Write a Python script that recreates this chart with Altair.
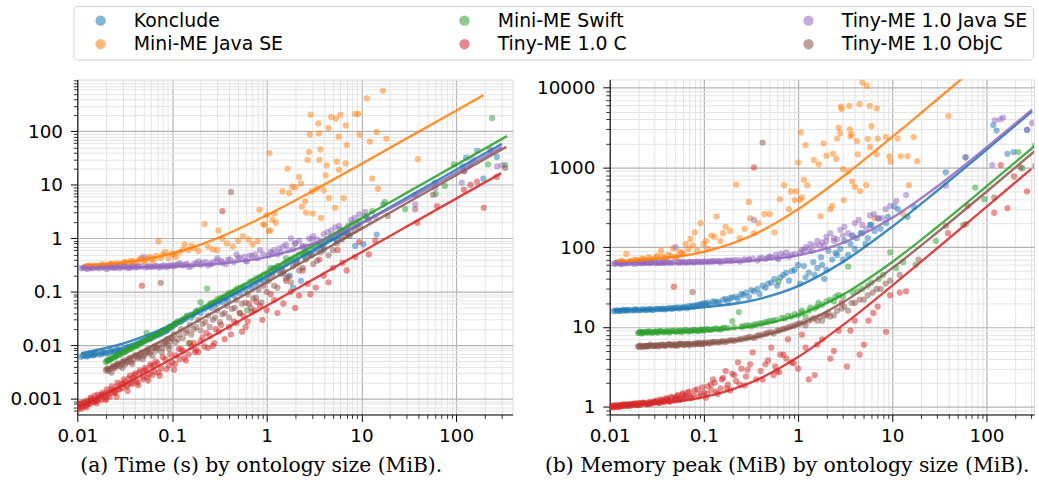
import altair as alt
import pandas as pd

# ---------------------------------------------------------------------------
# Benchmark results: ontology size (MiB), reasoning time (s), memory peak (MiB)
# ---------------------------------------------------------------------------

KONCLUDE_SIZE = [0.011, 0.012, 0.013, 0.014, 0.015, 0.016, 0.018, 0.019, 0.021, 0.023, 0.025, 0.027, 0.029,
                 0.032, 0.035, 0.038, 0.042, 0.046, 0.05, 0.055, 0.06, 0.066, 0.072, 0.079, 0.087, 0.095,
                 0.105, 0.115, 0.13, 0.145, 0.16, 0.18, 0.2, 0.23, 0.26, 0.3, 0.34, 0.39, 0.45, 0.52, 0.6,
                 0.7, 0.8, 0.92,
                 1.05, 1.3, 1.6, 1.9, 2.3, 2.8, 3.4, 4.2, 5.2, 6.5, 8.6,
                 10.5, 14.5, 17, 37, 60, 118, 128, 167, 194, 270,
                 0.0115, 0.0125, 0.0135, 0.0145, 0.0155, 0.017, 0.0185, 0.02, 0.022, 0.024, 0.026, 0.028,
                 0.031, 0.034, 0.037, 0.04, 0.044, 0.048, 0.053, 0.058, 0.063, 0.069, 0.076, 0.083, 0.091,
                 0.1, 0.11, 0.125, 0.14, 0.17, 0.19, 0.22, 0.25, 0.28, 0.32, 0.37, 0.42, 0.48, 0.56, 0.65,
                 0.75, 0.86, 1.0, 1.15, 1.45, 1.75, 2.1, 2.5, 3.1, 3.8, 4.6, 5.8, 7.2,
                 1.2, 1.5, 1.8, 2.0, 2.6, 3.0, 3.6, 4.0, 4.8, 5.5, 6.0, 7.5, 9.0, 11.5]
KONCLUDE_TIME = [0.0061, 0.0065, 0.0063, 0.0068, 0.0066, 0.0071, 0.0069, 0.0074, 0.0072, 0.0079, 0.0077, 0.0084,
                 0.0082, 0.0089, 0.0093, 0.0098, 0.0105, 0.0112, 0.012, 0.013, 0.0138, 0.015, 0.0158, 0.0172,
                 0.0185, 0.021,
                 0.024, 0.028, 0.03, 0.036, 0.033, 0.042, 0.04, 0.052, 0.05, 0.06, 0.065, 0.07, 0.085, 0.095,
                 0.11, 0.115, 0.15, 0.16,
                 0.21, 0.25, 0.33, 0.12, 0.16, 0.5, 0.62, 0.85, 1.0, 1.4, 0.72,
                 0.77, 1.17, 4.3, 6.5, 11, 22, 32, 43, 13, 33,
                 0.0064, 0.0062, 0.0067, 0.0065, 0.007, 0.0068, 0.0073, 0.0071, 0.0076, 0.0075, 0.0081, 0.008,
                 0.0086, 0.0092, 0.0096, 0.0101, 0.0109, 0.0116, 0.0125, 0.0135, 0.0144, 0.0155, 0.0165,
                 0.018, 0.0195, 0.022, 0.025, 0.028, 0.031, 0.038, 0.045, 0.047, 0.055, 0.058, 0.068, 0.075,
                 0.09, 0.1, 0.12, 0.13, 0.14, 0.17, 0.18, 0.23, 0.28, 0.2, 0.4, 0.45, 0.6, 0.7, 0.95, 1.1, 1.2,
                 0.28, 0.22, 0.4, 0.35, 0.55, 0.48, 0.75, 0.6, 1.0, 0.9, 1.3, 1.1, 1.8, 2.4]
KONCLUDE_MEM = [15.8, 16.2, 15.9, 16.4, 16.0, 16.3, 16.1, 16.6, 16.2, 16.5, 16.3, 16.8, 16.4, 16.7, 16.9, 16.6,
                17.1, 16.8, 17.3, 17.0, 17.5, 17.2, 17.8, 18.0, 18.6, 19.3,
                19.5, 19, 20.5, 20, 22, 21, 23.5, 22.5, 25, 24, 28, 26, 31, 36, 33, 45, 38, 52,
                35, 48, 55, 40, 70, 95, 80, 130, 110, 160, 200,
                325, 240, 320, 870, 1330, 3400, 2900, 1480, 1560, 2950,
                16.0, 15.9, 16.2, 16.1, 16.4, 16.2, 16.5, 16.3, 16.6, 16.4, 16.7, 16.5, 16.9, 16.8, 17.0,
                16.9, 17.2, 17.4, 17.6, 17.5, 17.9, 18.2, 18.5, 18.8, 19.2, 19.8, 20.2, 21, 20.8, 22.5, 23,
                24, 26, 27, 29, 30, 33, 35, 40, 42, 48, 50, 60, 58, 65, 75, 90, 85, 120, 140, 150, 190, 230,
                42, 45, 60, 52, 80, 70, 110, 95, 150, 130, 190, 170, 240, 300]

SWIFT_SIZE = [0.020, 0.021, 0.022, 0.023, 0.025, 0.026, 0.028, 0.03, 0.032, 0.034, 0.037, 0.04, 0.043, 0.046,
              0.05, 0.054, 0.058, 0.063, 0.068, 0.074, 0.08, 0.087, 0.094,
              0.1, 0.11, 0.12, 0.135, 0.15, 0.165, 0.2, 0.235, 0.25, 0.28, 0.32, 0.36, 0.41, 0.47, 0.54, 0.62,
              0.72, 0.85,
              1.0, 1.2, 1.5, 1.8, 2.2, 2.7, 3.4, 4.3, 5.5, 7.2, 9.5,
              17.7, 29, 61, 76, 95, 218, 240, 330,
              0.0205, 0.0215, 0.0225, 0.024, 0.0255, 0.027, 0.029, 0.031, 0.033, 0.035, 0.038, 0.041, 0.044,
              0.048, 0.052, 0.056, 0.06, 0.065, 0.071, 0.077, 0.084, 0.09, 0.097, 0.105, 0.115, 0.128, 0.142,
              0.158, 0.18, 0.21, 0.26, 0.3, 0.34, 0.39, 0.44, 0.5, 0.58, 0.67, 0.78, 0.92, 1.1, 1.35, 1.65,
              2.0, 2.5,
              1.1, 1.3, 1.6, 2.4, 3.0, 3.8, 4.8, 6.0, 8.0, 11, 13]
SWIFT_TIME = [0.0049, 0.0052, 0.0053, 0.0056, 0.006, 0.0064, 0.0066, 0.0072, 0.0075, 0.0082, 0.0085, 0.0095,
              0.0098, 0.0108, 0.0118, 0.017, 0.013, 0.0145, 0.016, 0.0168, 0.019, 0.02, 0.022,
              0.023, 0.026, 0.027, 0.032, 0.011, 0.038, 0.064, 0.115, 0.058, 0.065, 0.075, 0.082, 0.095, 0.11,
              0.12, 0.045, 0.16, 0.19,
              0.22, 0.27, 0.33, 0.4, 0.5, 0.6, 0.75, 0.95, 1.2, 1.7, 2.1,
              4.8, 3.5, 6.7, 9.5, 24, 24, 176, 23.5,
              0.0051, 0.0054, 0.0057, 0.0059, 0.0063, 0.0067, 0.007, 0.0076, 0.0079, 0.0084, 0.009, 0.0097,
              0.0104, 0.0112, 0.0122, 0.013, 0.0138, 0.015, 0.0165, 0.0178, 0.0195, 0.021, 0.0225, 0.025,
              0.027, 0.03, 0.034, 0.037, 0.043, 0.05, 0.062, 0.072, 0.078, 0.092, 0.1, 0.118, 0.13, 0.155,
              0.18, 0.21, 0.25, 0.3, 0.37, 0.45, 0.55,
              0.28, 0.3, 0.42, 0.5, 0.72, 0.85, 1.1, 1.45, 1.9, 2.6, 3.2]
SWIFT_MEM = [8.4, 8.7, 8.3, 8.6, 8.5, 8.8, 8.4, 8.7, 8.5, 8.9, 8.6, 8.8, 8.5, 9.0, 8.7, 8.9, 8.6, 9.1, 8.8, 9.0,
             9.2, 8.9, 9.3,
             9.1, 9.4, 9.2, 9.6, 9.3, 9.8, 11.8, 15.4, 10.0, 10.4, 10.2, 10.8, 11.0, 11.5, 12.0, 37, 12.8, 13.5,
             14, 13.5, 17, 19, 22, 25, 57, 28, 33, 40, 86,
             60, 120, 195, 560, 400, 1560, 980, 1900,
             8.5, 8.6, 8.45, 8.7, 8.55, 8.75, 8.6, 8.8, 8.65, 8.85, 8.7, 8.9, 8.75, 8.95, 8.8, 9.0, 8.85,
             9.05, 8.9, 9.1, 9.0, 9.15, 9.05, 9.3, 9.2, 9.45, 9.35, 9.6, 9.7, 9.9, 10.2, 10.5, 10.7, 11.1,
             11.4, 11.9, 12.3, 13, 13.8, 14.5, 16, 17.5, 20, 21, 24,
             15, 16, 18, 21, 24, 27, 30, 36, 45, 55, 65]

OBJC_SIZE = [0.020, 0.021, 0.022, 0.024, 0.025, 0.027, 0.029, 0.031, 0.033, 0.036, 0.039, 0.042, 0.045, 0.048,
             0.052, 0.056, 0.06, 0.065, 0.07, 0.076, 0.082, 0.089, 0.096,
             0.023, 0.026, 0.03, 0.034, 0.038, 0.043, 0.049, 0.055, 0.062, 0.069, 0.078, 0.086, 0.093, 0.099,
             0.105, 0.115, 0.125, 0.14, 0.155, 0.17, 0.19, 0.21, 0.24, 0.27, 0.3, 0.34, 0.38, 0.42, 0.43,
             0.48, 0.55, 0.63, 0.72, 0.82, 0.93,
             1.05, 1.2, 1.4, 1.6, 1.9, 2.2, 2.6, 3.1, 3.7, 4.5, 5.5, 6.8, 8.5,
             19, 37, 57, 121, 230, 330,
             0.0205, 0.0215, 0.0235, 0.0245, 0.026, 0.028, 0.03, 0.032, 0.035, 0.037, 0.04, 0.044, 0.047,
             0.05, 0.054, 0.058, 0.063, 0.068, 0.073, 0.079, 0.085, 0.092, 0.1, 0.11, 0.12, 0.13, 0.145,
             0.16, 0.18, 0.2, 0.225, 0.25, 0.285, 0.32, 0.36, 0.4, 0.46, 0.52, 0.6, 0.68, 0.77, 0.88, 1.0,
             1.3, 1.7,
             1.15, 1.5, 1.8, 2.1, 2.4, 2.9, 3.4, 4.0, 5.0, 6.2, 7.5, 9.5, 12]
OBJC_TIME = [0.0034, 0.0037, 0.0036, 0.0041, 0.0039, 0.0046, 0.0043, 0.0052, 0.0048, 0.0058, 0.0054, 0.0066,
             0.0061, 0.0074, 0.0068, 0.0085, 0.0078, 0.0096, 0.0088, 0.147, 0.0105, 0.013, 0.0118,
             0.0031, 0.0042, 0.0038, 0.005, 0.0045, 0.0062, 0.0055, 0.0075, 0.0064, 0.009, 0.0075, 0.0112,
             0.0086, 0.0135,
             0.016, 0.013, 0.02, 0.017, 0.024, 0.02, 0.03, 0.025, 0.036, 0.03, 0.045, 0.038, 0.055, 7.3, 0.048,
             0.07, 0.06, 0.09, 0.075, 0.11, 0.13,
             0.16, 0.13, 0.22, 0.18, 0.3, 0.25, 0.4, 0.33, 0.55, 0.48, 0.8, 1.1, 1.4,
             2.6, 3.5, 6.5, 18, 45, 20.6,
             0.0036, 0.0033, 0.004, 0.0037, 0.0044, 0.004, 0.0049, 0.0044, 0.0056, 0.0049, 0.0064, 0.0057,
             0.0071, 0.0063, 0.008, 0.0071, 0.009, 0.008, 0.0102, 0.0089, 0.0115, 0.0099, 0.0135, 0.0115,
             0.016, 0.0135, 0.019, 0.016, 0.022, 0.019, 0.027, 0.022, 0.033, 0.027, 0.04, 0.033, 0.05,
             0.04, 0.062, 0.05, 0.078, 0.063, 0.1, 0.12, 0.19,
             0.2, 0.24, 0.15, 0.34, 0.28, 0.5, 0.38, 0.7, 0.6, 0.95, 1.2, 1.6, 2.2]
OBJC_MEM = [5.7, 5.9, 5.6, 5.8, 5.7, 6.0, 5.8, 5.9, 5.7, 6.0, 5.8, 6.1, 5.9, 6.0, 5.8, 6.2, 6.0, 6.1, 5.9, 27.4,
            6.2, 6.3, 6.1,
            5.75, 5.85, 5.8, 5.95, 5.85, 6.05, 5.9, 6.1, 6.0, 6.15, 6.05, 6.2, 6.1, 6.25,
            6.3, 6.2, 6.5, 6.4, 6.6, 6.5, 6.8, 6.7, 7.0, 7.2, 7.5, 7.3, 7.9, 2050, 8.1, 8.5, 8.3, 9.0, 9.5,
            10, 10.5,
            11, 10.5, 12.5, 12, 14, 13.5, 16, 18, 20, 22, 25, 30, 35,
            70, 185, 190, 420, 1000, 1050,
            5.65, 5.75, 5.7, 5.8, 5.75, 5.85, 5.8, 5.9, 5.85, 5.95, 5.9, 6.0, 5.95, 6.05, 6.0, 6.1, 6.05,
            6.15, 6.1, 6.2, 6.15, 6.25, 6.3, 6.35, 6.4, 6.45, 6.5, 6.6, 6.7, 6.8, 6.9, 7.0, 7.2, 7.4, 7.6,
            7.8, 8.2, 8.6, 9.0, 9.4, 9.8, 10.3, 11, 12, 13.5,
            11.5, 13, 12, 15, 14, 17, 16, 20, 22, 27, 30, 38, 45]

TINYC_SIZE = [0.0100, 0.0103, 0.0107, 0.011, 0.0115, 0.012, 0.0125, 0.013, 0.0135, 0.014, 0.015, 0.0155, 0.016,
              0.017, 0.018, 0.019, 0.02, 0.021, 0.022, 0.024,
              0.025, 0.026, 0.027, 0.029, 0.03, 0.032, 0.034, 0.035, 0.037, 0.04, 0.042, 0.045, 0.048, 0.05,
              0.053, 0.057, 0.06, 0.065, 0.07, 0.077, 0.085, 0.093,
              0.011, 0.0125, 0.014, 0.016, 0.018, 0.02, 0.023, 0.026, 0.03, 0.034, 0.039, 0.044, 0.05, 0.056,
              0.064, 0.074,
              0.1, 0.11, 0.12, 0.13, 0.15, 0.16, 0.18, 0.2, 0.22, 0.25, 0.28, 0.31, 0.34, 0.4, 0.48, 0.57, 0.7,
              0.85,
              0.105, 0.125, 0.14, 0.17, 0.19, 0.23, 0.27, 0.33, 0.42, 0.52, 0.63, 0.78,
              1.0, 1.2, 1.5, 1.8, 2.2, 2.7, 3.3, 4.0, 5.0, 6.3, 8.6, 12,
              39, 63, 121, 142, 167, 196, 270,
              0.0101, 0.0105, 0.0112, 0.0118, 0.0122, 0.0128, 0.0133, 0.0138, 0.0145, 0.0152, 0.0158, 0.0165,
              0.0172, 0.0185, 0.0195, 0.0205, 0.0215, 0.023, 0.0245, 0.0265, 0.028, 0.031, 0.033, 0.036,
              0.038, 0.041, 0.043, 0.046, 0.049, 0.052, 0.055, 0.059, 0.062, 0.067, 0.072, 0.08, 0.088,
              0.096, 0.108, 0.118, 0.135, 0.155, 0.175, 0.21, 0.24, 0.29, 0.36, 0.45, 0.6, 0.75,
              0.55, 0.65, 0.9, 1.1, 1.3, 1.6, 2.0, 2.4, 2.9, 3.6, 4.5, 5.6, 7.0, 9.5, 14]
TINYC_TIME = [0.0007, 0.00075, 0.00068, 0.0008, 0.00072, 0.00085, 0.00078, 0.0009, 0.0008, 0.00095, 0.00088,
              0.001, 0.0009, 0.0011, 0.00095, 0.0012, 0.001, 0.0013, 0.0011, 0.0014,
              0.0013, 0.0017, 0.0015, 0.0019, 0.0016, 0.0021, 0.0018, 0.0024, 0.002, 0.0028, 0.0022, 0.0031,
              0.13, 0.0026, 0.0035, 0.0029, 0.0041, 0.0032, 0.0046, 0.0037, 0.0055, 0.0042,
              0.00085, 0.0007, 0.001, 0.00082, 0.0012, 0.00095, 0.0015, 0.0011, 0.0019, 0.0014, 0.0025, 0.0018,
              0.0033, 0.0022, 0.0042, 0.0027,
              0.0048, 0.0065, 0.0055, 0.0078, 0.0068, 0.0095, 0.0082, 0.012, 0.0095, 0.015, 0.011, 0.018, 3.2,
              0.022, 0.026, 0.035, 0.042, 0.055,
              0.0035, 0.0085, 0.0052, 0.011, 0.0075, 0.017, 0.0098, 0.024, 0.016, 0.04, 0.028, 0.065,
              0.045, 0.07, 0.06, 0.1, 0.085, 0.14, 0.12, 0.2, 0.28, 0.35, 0.45, 0.5,
              1.95, 4.0, 8.1, 10, 11.4, 3.7, 14,
              0.00062, 0.0008, 0.00066, 0.00088, 0.00074, 0.00092, 0.00082, 0.00105, 0.00086, 0.00115,
              0.00094, 0.0012, 0.001, 0.0013, 0.0011, 0.0015, 0.0012, 0.0017, 0.0013, 0.002, 0.0015, 0.0023,
              0.0017, 0.0027, 0.0019, 0.003, 0.002, 0.0034, 0.0023, 0.0038, 0.0025, 0.0044, 0.0028, 0.005,
              0.0031, 0.006, 0.0036, 0.0068, 0.0045, 0.0085, 0.0058, 0.011, 0.0075, 0.014, 0.009, 0.02,
              0.013, 0.028, 0.022, 0.045,
              0.018, 0.06, 0.03, 0.09, 0.04, 0.16, 0.05, 0.25, 0.09, 0.4, 0.15, 0.6, 0.25, 0.85, 0.9]
TINYC_MEM = [1.0, 0.98, 1.02, 0.99, 1.03, 1.0, 1.04, 1.01, 1.05, 1.02, 1.06, 1.03, 1.07, 1.04, 1.08, 1.05, 1.1,
             1.06, 1.12, 1.08,
             1.08, 1.13, 1.1, 1.16, 1.12, 1.2, 1.14, 1.24, 1.17, 1.28, 1.2, 1.33, 32, 1.25, 1.4, 1.28, 1.48,
             1.32, 1.55, 1.38, 1.65, 1.45,
             1.04, 1.0, 1.07, 1.03, 1.09, 1.05, 1.12, 1.08, 1.16, 1.12, 1.22, 1.16, 1.3, 1.22, 1.38, 1.3,
             1.5, 1.8, 1.6, 2.0, 1.7, 2.3, 1.9, 2.6, 2.1, 3.0, 2.4, 3.4, 1000, 2.8, 3.8, 3.2, 4.5, 3.6,
             1.3, 2.2, 1.45, 2.8, 1.6, 3.6, 1.85, 4.8, 2.2, 5.5, 2.7, 7.0,
             3.0, 5.5, 2.5, 7, 4, 9, 3.2, 12, 6, 15, 8.7, 27,
             150, 330, 270, 1070, 310, 770, 500,
             1.0, 1.02, 0.99, 1.04, 1.01, 1.05, 1.02, 1.06, 1.03, 1.07, 1.04, 1.08, 1.05, 1.1, 1.06, 1.11,
             1.07, 1.13, 1.09, 1.15, 1.1, 1.18, 1.12, 1.21, 1.14, 1.25, 1.16, 1.3, 1.19, 1.36, 1.22, 1.42,
             1.25, 1.5, 1.3, 1.6, 1.35, 1.75, 1.45, 1.9, 1.55, 2.2, 1.7, 2.5, 1.9, 2.9, 2.2, 3.4, 2.8, 4.0,
             2.5, 4.5, 3.5, 8, 2.2, 6, 14, 5, 20, 9, 4.5, 12, 18, 25, 28]

TINYJ_SIZE = [0.011, 0.012, 0.013, 0.014, 0.015, 0.017, 0.018, 0.02, 0.022, 0.024, 0.026, 0.028, 0.031, 0.034,
              0.037, 0.041, 0.045, 0.05, 0.055, 0.06, 0.066, 0.072, 0.079, 0.087, 0.095,
              0.105, 0.115, 0.13, 0.145, 0.16, 0.18, 0.2, 0.23, 0.26, 0.3, 0.34, 0.39, 0.45, 0.52, 0.6, 0.7,
              0.8, 0.92,
              0.12, 0.15, 0.19, 0.24, 0.3, 0.37, 0.48, 0.62, 0.85, 1.3, 1.8, 2.4,
              1.05, 1.2, 1.4, 1.6, 1.9, 2.2, 2.6, 3.1, 3.7, 4.4, 5.3, 6.4, 7.8, 9.5,
              14, 37, 60, 115, 123, 140, 150, 270, 305,
              0.0115, 0.0125, 0.0135, 0.0145, 0.016, 0.019, 0.021, 0.023, 0.025, 0.027, 0.03, 0.033, 0.036,
              0.039, 0.043, 0.048, 0.053, 0.058, 0.063, 0.069, 0.076, 0.083, 0.091, 0.1, 0.11, 0.125, 0.14,
              0.17, 0.21, 0.27, 0.33, 0.41, 0.5, 0.58, 0.66, 0.75, 1.1, 1.5, 2.0, 3.0,
              1.15, 1.35, 1.7, 2.0, 2.4, 2.8, 3.4, 4.0, 4.8, 5.8, 7.0, 8.5, 11]
TINYJ_TIME = [0.275, 0.285, 0.27, 0.28, 0.29, 0.275, 0.285, 0.27, 0.295, 0.28, 0.29, 0.275, 0.3, 0.28, 0.29,
              0.285, 0.3, 0.45, 0.295, 0.29, 0.305, 0.285, 0.3, 0.29, 0.31,
              0.3, 0.32, 0.31, 0.33, 0.3, 0.34, 0.32, 0.36, 0.33, 0.38, 0.35, 0.4, 0.36, 0.43, 0.38, 0.46, 0.42,
              0.5,
              0.34, 0.29, 0.37, 0.31, 0.42, 0.33, 0.5, 0.37, 0.6, 0.5, 1.0, 0.68,
              0.48, 0.6, 0.55, 0.75, 0.62, 0.9, 0.7, 1.1, 0.85, 1.3, 1.6, 1.25, 2.2, 2.8,
              2.5, 4.3, 8.6, 11, 18, 24, 30, 22, 23,
              0.28, 0.27, 0.29, 0.275, 0.28, 0.29, 0.27, 0.285, 0.28, 0.295, 0.285, 0.29, 0.28, 0.3, 0.29,
              0.295, 0.285, 0.3, 0.295, 0.305, 0.295, 0.31, 0.3, 0.31, 0.315, 0.32, 0.325, 0.33, 0.35, 0.36,
              0.38, 0.4, 0.42, 0.45, 0.48, 0.5, 0.56, 0.7, 0.8, 0.95,
              0.52, 0.65, 0.6, 0.8, 0.72, 1.0, 0.95, 1.2, 1.4, 1.7, 1.5, 2.4, 3.1]
TINYJ_MEM = [62, 63.5, 61.5, 63, 62.5, 64, 62, 63.5, 62.8, 64.2, 63, 64.5, 63.2, 64, 63.5, 64.8, 63.8, 100, 64,
             65, 64.2, 65.5, 64.8, 66, 65.2,
             65.5, 66, 66.5, 67, 66.8, 68, 67.5, 69, 68.5, 70, 220, 72, 71, 74, 73, 78, 76, 82,
             66, 65, 68, 66, 70, 68, 74, 71, 80, 95, 115, 130,
             85, 100, 90, 120, 105, 150, 125, 180, 140, 220, 170, 260, 230, 330,
             450, 590, 1350, 1070, 3900, 4000, 4200, 2950, 3600,
             62.5, 63, 62, 63.8, 63.2, 62.5, 64, 63.3, 64.5, 63.6, 64.1, 63.4, 64.6, 63.9, 64.3, 65, 64.4,
             65.3, 64.6, 65.6, 65, 65.8, 65.3, 66.2, 66, 66.8, 67, 68, 69, 70.5, 72, 74, 77, 80, 83, 86, 92,
             105, 120, 140,
             92, 110, 105, 135, 120, 165, 150, 200, 190, 250, 230, 300, 380]

MINIJ_SIZE = [0.012, 0.013, 0.014, 0.015, 0.0165, 0.018, 0.02, 0.022, 0.024, 0.026, 0.029, 0.032, 0.035, 0.038,
              0.042, 0.047, 0.052, 0.058, 0.064, 0.072, 0.08, 0.092,
              0.1, 0.11, 0.12, 0.136, 0.15, 0.17, 0.19, 0.22, 0.24, 0.27, 0.3, 0.31, 0.34, 0.38, 0.44, 0.5,
              0.56, 0.64, 0.71, 0.8, 0.84, 0.92,
              0.95, 1.0, 1.05, 1.07, 1.1, 1.15, 1.2, 1.25, 1.47, 1.66, 1.73, 1.87, 2.0, 2.2, 2.3, 2.35, 2.55,
              2.6, 2.7, 2.8, 2.85, 2.9, 3.0, 3.05, 3.4, 3.5, 3.55, 3.6, 3.7, 3.75, 4.0, 4.2, 4.3, 4.5, 4.55,
              4.8, 5.3, 5.4, 5.5, 5.75, 5.8, 6.0, 6.5, 6.8, 6.85, 7.0, 8.6, 9.3, 9.6, 11.4, 12.3, 13, 14.5,
              15, 16.9, 18.4, 39.5,
              0.0125, 0.0135, 0.016, 0.019, 0.021, 0.023, 0.027, 0.031, 0.036, 0.04, 0.045, 0.05, 0.055,
              0.061, 0.068, 0.076, 0.085, 0.105, 0.13, 0.16]
MINIJ_TIME = [0.29, 0.3, 0.285, 0.31, 0.295, 0.32, 0.3, 0.33, 0.31, 0.34, 0.32, 0.36, 0.33, 0.38, 0.35, 0.42,
              0.37, 0.45, 0.4, 0.88, 0.5, 0.43,
              0.52, 0.45, 0.55, 0.77, 0.6, 0.65, 0.58, 1.84, 0.7, 0.62, 0.6, 1.4, 0.99, 0.8, 0.7, 0.9, 1.1,
              0.95, 0.77, 0.89, 3.4, 1.8,
              1.8, 2.7, 1.36, 39, 1.4, 2.2, 2.9, 1.96, 7.5, 20, 7.0, 9.2, 8.9, 14, 10.6, 3.9, 4.9,
              3.0, 29, 41, 87, 204, 7.5, 2.9, 8.5, 140, 91, 29, 46, 2.4, 7.9, 15, 23, 115, 5.6,
              185, 3.7, 172, 27, 79, 19, 204, 5.6, 25, 128, 55, 210, 210, 87, 412, 64, 13, 97,
              8.4, 570, 73, 30,
              0.3, 0.31, 0.3, 0.32, 0.31, 0.34, 0.33, 0.35, 0.37, 0.34, 0.4, 0.38, 0.42, 0.39, 0.47, 0.43,
              0.55, 0.5, 0.62, 0.72]
MINIJ_MEM = [64, 66, 65, 82, 67, 70, 68, 72, 69, 75, 71, 78, 90, 73, 80, 97, 76, 85, 110, 127, 153, 200,
             110, 95, 140, 243, 120, 180, 160, 610, 130, 170, 370, 230, 150, 200, 260, 260, 153, 400, 600,
             300, 500, 390,
             500, 1150, 390, 2760, 420, 700, 1900, 600, 1240, 1100, 245, 2000, 1400, 300, 330, 1480, 1280,
             2300, 3160, 2700, 5800, 5400, 950, 390, 880, 5900, 3000, 2460, 2600, 670, 570, 2150, 1460, 6200,
             505, 11600, 600, 10600, 2270, 5900, 1800, 3300, 230, 1460, 5500, 2300, 2400, 1380, 1180, 2300,
             1380, 260, 1380, 600, 2400, 1200, 4400,
             65, 68, 66, 69, 67, 71, 70, 74, 76, 72, 78, 74, 88, 82, 95, 105, 90, 120, 135, 150]

# Linear fits (value = a + b * size), read along each reasoner's size range
KONCLUDE_FIT_X = [0.011, 0.03, 0.1, 0.3, 1, 3, 10, 30, 100, 305]
KONCLUDE_FIT_TIME = [0.0071, 0.0107, 0.024, 0.062, 0.195, 0.575, 1.9, 5.7, 19, 58]
KONCLUDE_FIT_MEM = [16.2, 16.5, 17.65, 21, 32.5, 65.5, 181, 511, 1666, 5050]

MINIJ_FIT_X = [0.012, 0.03, 0.1, 0.3, 1, 3, 10, 30, 100, 195]
MINIJ_FIT_TIME = [0.309, 0.353, 0.52, 1.0, 2.7, 7.5, 24.5, 73, 242, 472]
MINIJ_FIT_MEM = [66.8, 71, 87.5, 134.5, 299, 769, 2414, 7114, 23564, 45889]

SWIFT_FIT_X = [0.02, 0.03, 0.1, 0.3, 1, 3, 10, 30, 100, 345]
SWIFT_FIT_TIME = [0.005, 0.0074, 0.0238, 0.071, 0.235, 0.71, 2.35, 7.05, 23.5, 81]
SWIFT_FIT_MEM = [8.5, 8.57, 8.97, 10.1, 14.1, 25.5, 65.4, 179, 578, 1975]

TINYC_FIT_X = [0.01, 0.03, 0.1, 0.3, 1, 3, 10, 30, 100, 300]
TINYC_FIT_TIME = [0.00068, 0.0018, 0.0056, 0.0166, 0.055, 0.165, 0.55, 1.65, 5.5, 16.5]
TINYC_FIT_MEM = [1.03, 1.1, 1.32, 1.96, 4.2, 10.6, 33, 97, 321, 961]

TINYJ_FIT_X = [0.011, 0.03, 0.1, 0.3, 1, 3, 10, 30, 100, 305]
TINYJ_FIT_TIME = [0.282, 0.285, 0.297, 0.33, 0.445, 0.775, 1.93, 5.23, 16.8, 50.6]
TINYJ_FIT_MEM = [62.2, 62.5, 63.7, 67.2, 79.2, 113.6, 234, 578, 1782, 5308]

OBJC_FIT_X = [0.02, 0.03, 0.1, 0.3, 1, 3, 10, 30, 100, 340]
OBJC_FIT_TIME = [0.0035, 0.005, 0.0155, 0.0455, 0.15, 0.45, 1.5, 4.5, 15, 51]
OBJC_FIT_MEM = [5.8, 5.85, 6.19, 7.17, 10.6, 20.4, 54.7, 153, 496, 1672]

REASONERS = ["Konclude", "Mini-ME Java SE", "Mini-ME Swift",
             "Tiny-ME 1.0 C", "Tiny-ME 1.0 Java SE", "Tiny-ME 1.0 ObjC"]
REASONER_COLORS = ["#1f77b4", "#ff7f0e", "#2ca02c", "#d62728", "#9467bd", "#8c564b"]

SERIES = [
    (KONCLUDE_SIZE, KONCLUDE_TIME, KONCLUDE_MEM, KONCLUDE_FIT_X, KONCLUDE_FIT_TIME, KONCLUDE_FIT_MEM),
    (MINIJ_SIZE, MINIJ_TIME, MINIJ_MEM, MINIJ_FIT_X, MINIJ_FIT_TIME, MINIJ_FIT_MEM),
    (SWIFT_SIZE, SWIFT_TIME, SWIFT_MEM, SWIFT_FIT_X, SWIFT_FIT_TIME, SWIFT_FIT_MEM),
    (TINYC_SIZE, TINYC_TIME, TINYC_MEM, TINYC_FIT_X, TINYC_FIT_TIME, TINYC_FIT_MEM),
    (TINYJ_SIZE, TINYJ_TIME, TINYJ_MEM, TINYJ_FIT_X, TINYJ_FIT_TIME, TINYJ_FIT_MEM),
    (OBJC_SIZE, OBJC_TIME, OBJC_MEM, OBJC_FIT_X, OBJC_FIT_TIME, OBJC_FIT_MEM),
]

points = pd.concat(
    [pd.DataFrame({"reasoner": name, "size": s, "time": t, "mem": m})
     for name, (s, t, m, _, _, _) in zip(REASONERS, SERIES)],
    ignore_index=True,
)
points["order"] = range(len(points))
fits = pd.concat(
    [pd.DataFrame({"reasoner": name, "x": fx, "time": ft, "mem": fm})
     for name, (_, _, _, fx, ft, fm) in zip(REASONERS, SERIES)],
    ignore_index=True,
)

TICK_FONT = "DejaVu Sans"
CAPTION_FONT = "DejaVu Serif"


def log_minor(lo_exp, hi_exp, lo, hi):
    vals = []
    for e in range(lo_exp, hi_exp + 1):
        for m in range(2, 10):
            v = round(m * 10.0 ** e, 8)
            if lo <= v <= hi:
                vals.append(v)
    return vals


color = alt.Color(
    "reasoner:N",
    scale=alt.Scale(domain=REASONERS, range=REASONER_COLORS),
    legend=alt.Legend(
        title=None, orient="none", legendX=-4, legendY=-74, columns=3, gridAlign="each",
        symbolType="circle", symbolSize=110, symbolOpacity=0.55, symbolStrokeWidth=0,
        labelFont=TICK_FONT, labelFontSize=19, labelColor="black", labelLimit=400,
        labelOffset=24, symbolOffset=13, padding=5, rowPadding=4, columnPadding=160,
        strokeColor="#cfcfcf", fillColor="white", cornerRadius=4,
    ),
)


def major_axis(orient, values):
    return alt.Axis(
        orient=orient, values=values, format="~g", title=None, grid=True,
        gridColor="#b4b4b4", gridWidth=1.2, tickSize=7, tickColor="black", tickWidth=1,
        domainColor="black", domainWidth=1, labelFont=TICK_FONT, labelFontSize=18.5,
        labelColor="black", labelPadding=5 if orient == "bottom" else 8, labelFlush=False,
        labelOverlap=False,
    )


def minor_axis(orient, values):
    return alt.Axis(
        orient=orient, values=values, title=None, grid=True, gridColor="#e4e4e4",
        gridWidth=1, tickSize=4, tickColor="black", tickWidth=0.8, labels=False, domain=False,
    )


def panel(field, y_domain, y_major, y_minor, x_max, width, caption):
    xs = alt.Scale(type="log", domain=[0.01, x_max], nice=False)
    ys = alt.Scale(type="log", domain=y_domain, nice=False)
    x_major = [0.01, 0.1, 1, 10, 100]
    x_minor = log_minor(-2, 2, 0.01, x_max)

    grid = alt.Chart(points).mark_point(opacity=0).encode(
        x=alt.X("size:Q", scale=xs, axis=minor_axis("bottom", x_minor)),
        y=alt.Y(f"{field}:Q", scale=ys, axis=minor_axis("left", y_minor)),
    )
    scatter = alt.Chart(points).mark_circle(size=40, opacity=0.5, clip=True).encode(
        x=alt.X("size:Q", scale=xs, axis=major_axis("bottom", x_major)),
        y=alt.Y(f"{field}:Q", scale=ys, axis=major_axis("left", y_major)),
        color=color,
        order=alt.Order("order:Q"),
    )
    lines = alt.Chart(fits).mark_line(strokeWidth=2.4, opacity=0.85, clip=True,
                                      interpolate="monotone").encode(
        x=alt.X("x:Q", scale=xs, axis=None),
        y=alt.Y(f"{field}:Q", scale=ys, axis=None),
        color=alt.Color("reasoner:N", legend=None),
    )
    return alt.layer(grid, scatter, lines).resolve_axis(
        x="independent", y="independent"
    ).properties(
        width=width, height=338,
        title=alt.TitleParams(
            text=caption, orient="bottom", anchor="middle", frame="bounds",
            font=CAPTION_FONT, fontSize=20.5, fontWeight="normal", color="black", offset=12,
        ),
    )


time_panel = panel(
    "time", [0.00051, 930], [0.001, 0.01, 0.1, 1, 10, 100],
    log_minor(-4, 2, 0.00051, 930), 395, 439,
    "(a) Time (s) by ontology size (MiB).",
)
mem_panel = panel(
    "mem", [0.8, 12700], [1, 10, 100, 1000, 10000],
    log_minor(-1, 4, 0.8, 12700), 320, 428,
    "(b) Memory peak (MiB) by ontology size (MiB).",
)

chart = alt.hconcat(time_panel, mem_panel, spacing=22).properties(
    padding={"left": 9, "top": 3, "right": 0, "bottom": 0},
).configure_view(stroke="black", strokeWidth=1).configure(background="white")

chart.save("out.html", embed_options={"renderer": "svg", "actions": False})
